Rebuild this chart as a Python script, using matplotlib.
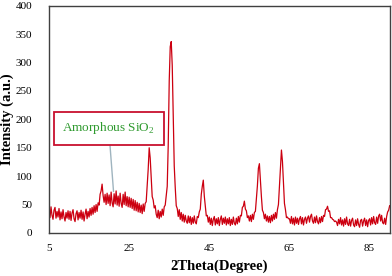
import numpy as np
import matplotlib
matplotlib.use("Agg")
import matplotlib.pyplot as plt

# XRD pattern at 0.25 degree steps from 5 to 90
two_theta_start = 5.0
two_theta_step = 0.25
intensity = [
    # 5.00 - 9.75
    42, 27, 46, 31, 24, 40, 45, 26, 38, 28, 43, 23, 37, 25, 41, 28, 21, 36, 26, 39,
    # 10.00 - 14.75
    24, 38, 22, 35, 41, 25, 20, 34, 39, 23, 36, 26, 40, 24, 37, 21, 33, 42, 25, 38,
    # 15.00 - 19.75
    28, 43, 31, 45, 33, 48, 36, 50, 38, 53, 49, 68, 74, 86, 66, 54, 68, 50, 70, 52,
    # 20.00 - 24.75
    67, 48, 72, 53, 46, 69, 51, 74, 49, 65, 47, 70, 52, 45, 68, 50, 72, 48, 64, 46,
    # 25.00 - 29.75
    63, 45, 61, 43, 59, 40, 57, 39, 54, 37, 52, 36, 49, 34, 51, 38, 52, 55, 82, 112,
    # 30.00 - 34.75
    150, 132, 98, 64, 58, 44, 48, 33, 27, 40, 25, 38, 28, 42, 31, 46, 49, 66, 82, 155,
    # 35.00 - 39.75
    268, 328, 337, 295, 208, 118, 80, 48, 43, 29, 41, 24, 36, 21, 33, 19, 31, 21, 17, 30,
    # 40.00 - 44.75
    18, 29, 15, 27, 17, 30, 19, 16, 29, 27, 37, 42, 68, 82, 93, 65, 47, 30, 31, 19,
    # 45.00 - 49.75
    28, 15, 26, 13, 24, 29, 14, 25, 16, 27, 13, 24, 30, 15, 26, 17, 28, 14, 25, 16,
    # 50.00 - 54.75
    27, 13, 24, 15, 28, 17, 14, 26, 16, 29, 19, 31, 30, 45, 47, 56, 42, 39, 27, 30,
    # 55.00 - 59.75
    21, 31, 20, 33, 24, 36, 38, 60, 83, 114, 122, 92, 64, 40, 36, 25, 33, 21, 30, 19,
    # 60.00 - 64.75
    29, 18, 31, 21, 33, 24, 36, 26, 41, 50, 82, 116, 146, 126, 87, 52, 41, 27, 28, 25,
    # 65.00 - 69.75
    25, 17, 29, 16, 26, 14, 28, 17, 26, 15, 25, 29, 16, 27, 14, 24, 28, 17, 26, 30,
    # 70.00 - 74.75
    19, 29, 33, 21, 17, 28, 18, 30, 20, 16, 27, 18, 29, 20, 31, 29, 41, 42, 47, 38,
    # 75.00 - 79.75
    39, 27, 27, 24, 23, 20, 21, 19, 13, 24, 16, 27, 14, 23, 12, 25, 15, 28, 16, 13,
    # 80.00 - 84.75
    24, 12, 22, 26, 14, 11, 23, 13, 25, 15, 10, 22, 24, 12, 21, 26, 13, 23, 11, 22,
    # 85.00 - 89.75
    25, 14, 27, 16, 29, 18, 15, 28, 17, 30, 33, 21, 31, 18, 16, 26, 15, 29, 37, 40,
    # 90.00
    48,
]
two_theta = two_theta_start + two_theta_step * np.arange(len(intensity))

x_ticks = [5, 25, 45, 65, 85]
y_ticks = [0, 50, 100, 150, 200, 250, 300, 350, 400]

label_text = "Amorphous SiO$_2$"
label_pos = (19.9, 184)
label_target = (21.1, 73)

plt.rcParams["font.family"] = ["Liberation Serif", "DejaVu Serif"]
plt.rcParams["mathtext.fontset"] = "custom"
plt.rcParams["mathtext.rm"] = "Liberation Serif"

fig = plt.figure(figsize=(3.92, 2.76), dpi=100)
ax = fig.add_axes([0.125, 0.156, 0.869, 0.823])

ax.plot(two_theta, intensity, color="#cc0010", linewidth=0.9)

ax.set_xlim(5, 90)
ax.set_ylim(0, 400)
ax.set_xticks(x_ticks)
ax.set_yticks(y_ticks)
ax.tick_params(length=0, labelsize=8)
ax.tick_params(axis="y", pad=12)
ax.tick_params(axis="x", pad=8)
for spine in ax.spines.values():
    spine.set_color("#404040")
    spine.set_linewidth(1.0)

ax.set_xlabel("2Theta(Degree)", fontsize=10.5, fontweight="bold", labelpad=5)
ax.set_ylabel("Intensity (a.u.)", fontsize=10.5, fontweight="bold", labelpad=1.5)

ax.annotate(label_text, xy=label_target, xytext=label_pos,
            ha="center", va="center", fontsize=9.5, color="#2e9a2e",
            bbox=dict(boxstyle="square,pad=0.65", fc="white",
                      ec="#c8102e", lw=1.3),
            arrowprops=dict(arrowstyle="-", color="#9fb4bf", lw=1.0,
                            shrinkA=0, shrinkB=0))

fig.savefig("out.png", dpi=100)
